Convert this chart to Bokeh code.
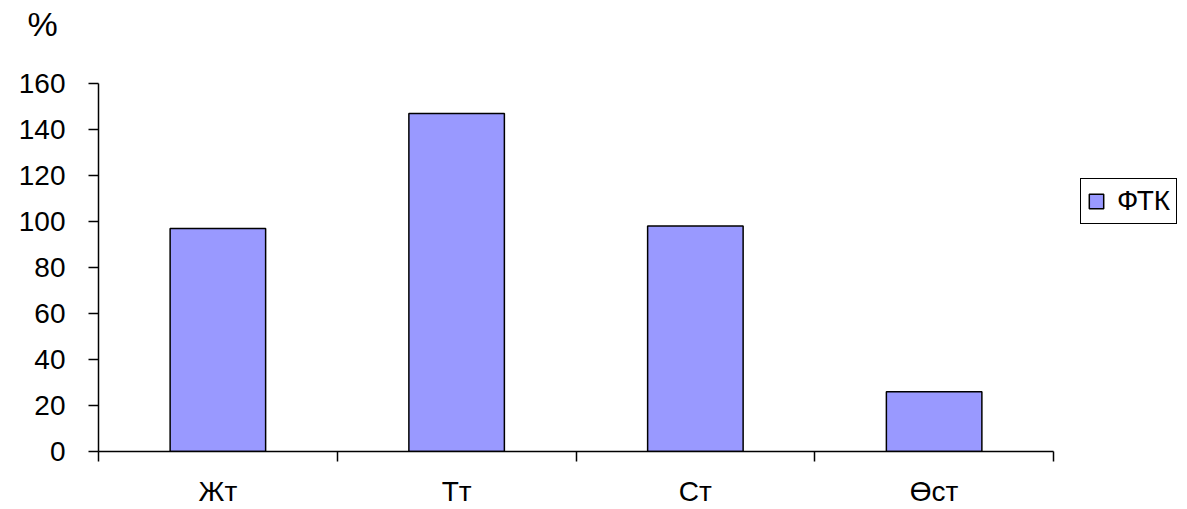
from bokeh.plotting import figure
from bokeh.models import Range1d, FixedTicker, Legend, LegendItem
from bokeh.embed import file_html
from bokeh.resources import INLINE

categories = ["Жт", "Тт", "Ст", "Өст"]
series_name = "ФТК"
values = [97, 147, 98, 26]
y_ticks = [0, 20, 40, 60, 80, 100, 120, 140, 160]
unit_label = "%"

FONT = "Liberation Sans"
BAR = "#9999FF"

W, H = 1187, 509
LEFT = 98          # px left of the plot area
AXIS_PX = 955      # px length of the category axis
n = len(categories)
xs = [i + 0.5 for i in range(n)]
x_end = n * (W - LEFT) / AXIS_PX   # frame extends to the right edge for the legend

p = figure(width=W, height=H, output_backend="svg", toolbar_location=None,
           x_range=Range1d(0, x_end), y_range=Range1d(0, 160),
           min_border_left=LEFT, min_border_right=0, min_border_top=83, min_border_bottom=56)
p.outline_line_color = None
p.xgrid.visible = False
p.ygrid.visible = False
p.background_fill_color = "white"
p.border_fill_color = "white"

r = p.vbar(x=xs, top=values, bottom=0, width=0.4, fill_color=BAR,
           line_color="black", line_width=1.5)

# unit label above the y axis (trailing blank line lifts it above the plot)
p.title.text = unit_label + "\n"
p.title.text_font = FONT
p.title.text_font_size = "34px"
p.title.text_font_style = "normal"
p.title.text_color = "black"
p.title.text_line_height = 0.9
p.title.align = "left"
p.title.vertical_align = "top"
p.title.offset = -71
p.title.standoff = 9

# y axis
ya = p.yaxis[0]
ya.ticker = FixedTicker(ticks=y_ticks)
ya.axis_line_color = "black"
ya.axis_line_width = 1.5
ya.major_tick_line_color = "black"
ya.major_tick_line_width = 1.5
ya.major_tick_out = 10
ya.major_tick_in = 0
ya.minor_tick_line_color = None
ya.major_label_text_font = FONT
ya.major_label_text_font_size = "28px"
ya.major_label_text_color = "black"
ya.major_label_standoff = 23

# x axis: labels at centres, ticks at category boundaries
xa = p.xaxis[0]
xa.bounds = (0, n)
xa.ticker = FixedTicker(ticks=xs, minor_ticks=list(range(n + 1)))
xa.major_label_overrides = {x: c for x, c in zip(xs, categories)}
xa.axis_line_color = "black"
xa.axis_line_width = 1.5
xa.major_tick_line_color = None
xa.major_tick_out = 0
xa.major_tick_in = 0
xa.minor_tick_line_color = "black"
xa.minor_tick_line_width = 1.5
xa.minor_tick_out = 10
xa.minor_tick_in = 0
xa.major_label_text_font = FONT
xa.major_label_text_font_size = "28px"
xa.major_label_text_color = "black"
xa.major_label_standoff = 14

legend = Legend(items=[LegendItem(label=series_name, renderers=[r])],
                location=(982, 227), orientation="vertical",
                label_text_font=FONT, label_text_font_size="28px", label_text_color="black",
                border_line_color="black", border_line_width=1.5, border_line_alpha=1,
                glyph_width=18, glyph_height=18, padding=6, spacing=0,
                label_standoff=12, margin=0, background_fill_alpha=1)
p.add_layout(legend, "center")

open("out.html", "w").write(file_html(p, INLINE))
